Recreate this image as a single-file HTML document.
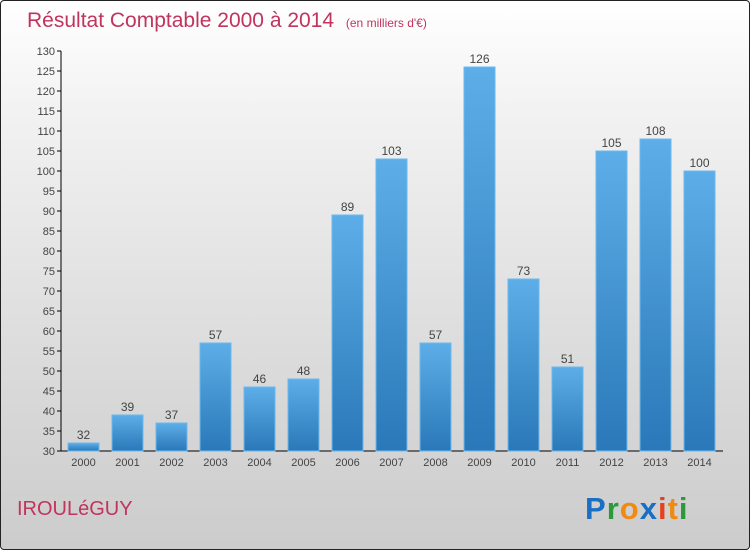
<!DOCTYPE html>
<html><head><meta charset="utf-8"><style>
body{margin:0;}
#wrap{position:relative;width:750px;height:550px;overflow:hidden;background:linear-gradient(#ffffff 0%,#f2f2f2 20%,#d9d9d9 70%,#cccccc 100%);box-sizing:border-box;border:1px solid #222;border-radius:4px;}
svg{position:absolute;left:0;top:0;}
text{font-family:"Liberation Sans",sans-serif;}
</style></head><body>
<div id="wrap">
<svg id="chart" width="750" height="550">
<defs><linearGradient id="bg" x1="0" y1="0" x2="0" y2="1"><stop offset="0" stop-color="#5daee8"/><stop offset="1" stop-color="#2a78b8"/></linearGradient></defs>
<text x="26" y="26" font-size="21" fill="#c0345e">Résultat Comptable 2000 à 2014 <tspan font-size="12" dx="6">(en milliers d'€)</tspan></text>
<text x="16" y="514" font-size="20" fill="#c0345e">IROULéGUY</text>
<text x="584" y="518" font-size="31" font-weight="bold" letter-spacing="1"><tspan fill="#1a6fc4">P</tspan><tspan fill="#2a9a3a">r</tspan><tspan fill="#f08a10">o</tspan><tspan fill="#1a6fc4">x</tspan><tspan fill="#e8401c">i</tspan><tspan fill="#f08a10">t</tspan><tspan fill="#2a9a3a">i</tspan></text>
<g id="plot"></g>
</svg>
</div>
<script>
const categories=["2000","2001","2002","2003","2004","2005","2006","2007","2008","2009","2010","2011","2012","2013","2014"];
const values=[32,39,37,57,46,48,89,103,57,126,73,51,105,108,100];
const yTicks=[30,35,40,45,50,55,60,65,70,75,80,85,90,95,100,105,110,115,120,125,130];
const NS="http://www.w3.org/2000/svg";
const g=document.getElementById('plot');
const y=v=>450-(v-30)*4;
const x=i=>82.5+i*44;
function mk(t,a){const e=document.createElementNS(NS,t);for(const k in a)e.setAttribute(k,a[k]);g.appendChild(e);return e;}
const ya=mk('line',{x1:60,y1:50,x2:60,y2:450,stroke:'#000'});


const xa=mk('line',{x1:60,y1:450,x2:722,y2:450,stroke:'#000'});


yTicks.forEach(v=>{
 const l=mk('line',{x1:56,y1:y(v),x2:60,y2:y(v),stroke:'#000'});
 
 
 const t=mk('text',{x:54,y:y(v)+4,'font-size':11,fill:'#444','text-anchor':'end'});
 t.textContent=v;
 
 
});
categories.forEach((c,i)=>{
 const r=mk('rect',{x:x(i)-15.5,y:y(values[i]),width:31,height:450-y(values[i]),fill:'url(#bg)',stroke:'#6cb8ee','stroke-width':1});
 
 
 const v=mk('text',{x:x(i),y:y(values[i])-4,'font-size':12,fill:'#444','text-anchor':'middle'});
 v.textContent=values[i];
 
 
 const t=mk('text',{x:x(i),y:465,'font-size':11,fill:'#444','text-anchor':'middle'});
 t.textContent=c;
 
 
});
</script>
</body></html>
